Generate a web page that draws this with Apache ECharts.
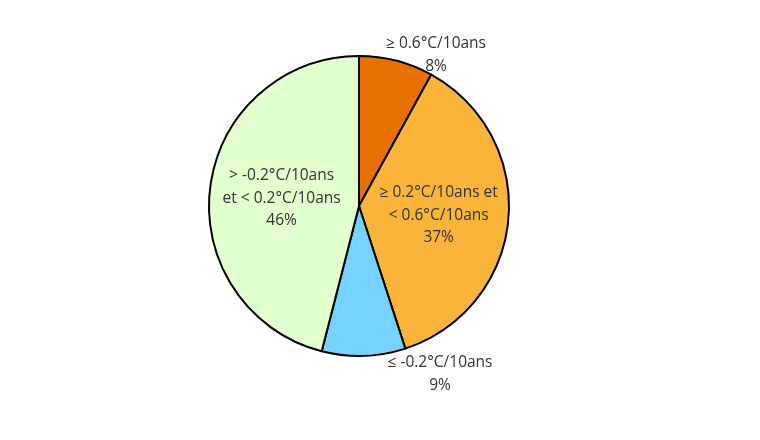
<!DOCTYPE html>
<html><head><meta charset="utf-8">
<script src="https://cdn.jsdelivr.net/npm/echarts@6/dist/echarts.min.js"></script>
<style>html,body{margin:0;padding:0;background:#fff}#c{width:760px;height:440px}</style>
</head><body><div id="c"></div>
<script>
const categories = ['≥ 0.6°C/10ans', '≥ 0.2°C/10ans et\n< 0.6°C/10ans', '≤ -0.2°C/10ans', '> -0.2°C/10ans\net < 0.2°C/10ans'];
const values = [8, 37, 9, 46];
const colors = ['#E87000', '#FBB43A', '#76D2FE', '#E2FFCE'];
const labelPos = ['outside', 'inside', 'outside', 'inside'];

const chart = echarts.init(document.getElementById('c'));
chart.setOption({
  animation: false,
  series: [{
    type: 'pie',
    center: [359, 206],
    radius: 150,
    startAngle: 90,
    clockwise: true,
    data: categories.map((n, i) => ({
      name: n, value: values[i],
      itemStyle: { color: colors[i] },
      label: { position: labelPos[i] }
    })),
    itemStyle: { borderColor: '#000', borderWidth: 2 },
    label: {
      formatter: p => p.name + '\n' + p.value + '%',
      color: '#333',
      fontFamily: 'Open Sans',
      fontSize: 15.5,
      lineHeight: 22.5,
      align: 'center'
    },
    labelLine: { show: false },
    labelLayout: function (p) {
      if (p.dataIndex === 0) return { x: 436, y: 55, align: 'center', verticalAlign: 'middle' };
      if (p.dataIndex === 2) return { x: 440, y: 374, align: 'center', verticalAlign: 'middle' };
      if (p.dataIndex === 1) return { dx: 2, dy: 2 };
      return { dy: 2 };
    }
  }]
});
</script></body></html>
